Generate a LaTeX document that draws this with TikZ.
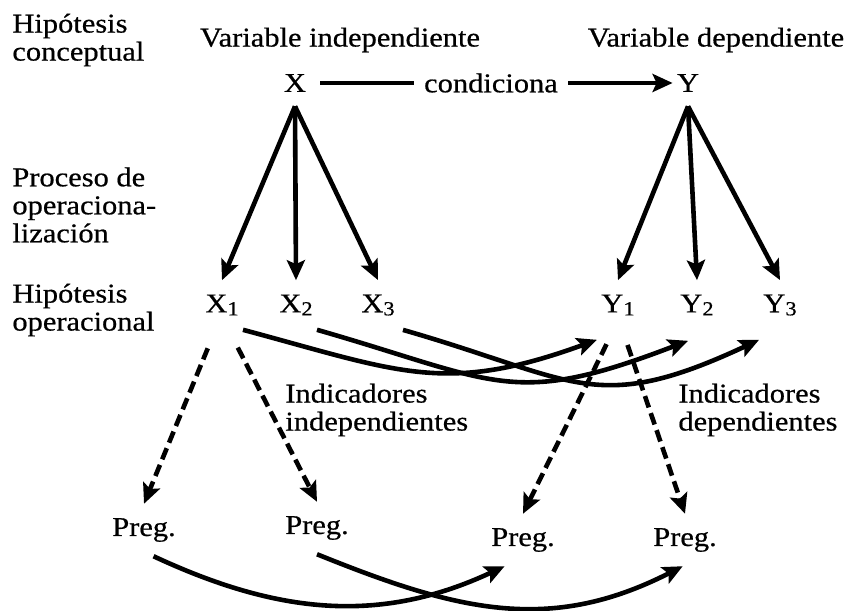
\documentclass[tikz,border=0pt]{standalone}
\usepackage{fontspec}
\setmainfont{Liberation Serif}[FakeStretch=1.12, FakeBold=0.6]
\usetikzlibrary{arrows.meta}
\newcommand{\ind}[1]{\raisebox{-1.5pt}{\fontsize{10}{10}\selectfont #1}}% subindice
\tikzset{
  txt/.style = {align=left, inner sep=0pt,
    font=\fontsize{13.6}{14}\selectfont},% textos de la izquierda
  var/.style = {inner xsep=2pt, inner ysep=7pt,
    font=\fontsize{13.6}{14}\selectfont},% variables
  flecha/.style = {line width=2.3pt, -{Stealth[length=10pt, width=9pt, inset=2pt]}},
  linea/.style = {line width=2.3pt},
  punteada/.style = {flecha, dash pattern=on 6pt off 3pt}% indicadores
}

\begin{document}
\begin{tikzpicture}[x=0.5pt, y=0.5pt]
	\useasboundingbox (0,0) rectangle (849,610);
	% textos de la izquierda
	\node [txt, anchor=west] (hc) at (12,570) {Hipótesis\\conceptual};
	\node [txt, anchor=west] (po) at (12,405) {Proceso de\\operaciona-\\lización};
	\node [txt, anchor=west] (ho) at (12,300) {Hipótesis\\operacional};
	% hipotesis conceptual
	\node [txt] (vi) at (340,570) {Variable independiente};
	\node [txt] (vd) at (716,570) {Variable dependiente};
	\node [var] (x) at (295,527) {X};
	\node [var, inner xsep=5pt] (cond) at (491,527) {condiciona};
	\node [var] (y) at (688,527) {Y};
	% hipotesis operacional
	\node [var] (x1) at (222,305) {X\ind{1}};
	\node [var] (x2) at (296,305) {X\ind{2}};
	\node [var] (x3) at (378,305) {X\ind{3}};
	\node [var] (y1) at (618,305) {Y\ind{1}};
	\node [var] (y2) at (697,305) {Y\ind{2}};
	\node [var] (y3) at (780,305) {Y\ind{3}};
	% indicadores
	\node [txt, anchor=west] (ii) at (285,200) {Indicadores\\independientes};
	\node [txt, anchor=west] (id) at (678,200) {Indicadores\\dependientes};
	\node [var] (p1) at (144,80) {Preg.};
	\node [var] (p2) at (317,82) {Preg.};
	\node [var] (p3) at (523,70) {Preg.};
	\node [var] (p4) at (685,70) {Preg.};

	\draw [linea, shorten <=5pt] (x) -- (cond);
	\draw [flecha] (cond) -- (y);
	\foreach \i in {1,2,3} {
		\draw [flecha] (x.south) -- (x\i.north);
		\draw [flecha] (y.south) -- (y\i.north);
	}
	\draw [flecha] (x1.south east) to [out=-15, in=200, looseness=1.17] ([yshift=-5pt]y1.south west);
	\draw [flecha] (x2.south east) to [out=-16, in=201, looseness=1.3] ([xshift=6pt, yshift=-5.5pt]y2.south west);
	\draw [flecha] ([xshift=2pt]x3.south east) to [out=-16, in=205, looseness=1.3] ([yshift=-5pt]y3.south west);
	\draw [punteada, shorten <=10pt] (x1.-105) -- (p1.north);
	\draw [punteada, shorten <=10pt] (x1.-75) -- (p2.north);
	\draw [punteada, shorten <=8pt] (y1.-100) -- (p3.north);
	\draw [punteada, shorten <=8pt] (y1.-80) -- (p4.north);
	\draw [flecha] (p1.-70) to [out=-25, in=205, looseness=1] (p3.-125);
	\draw [flecha] (p2.south) to [out=-22, in=207, looseness=1.05] (p4.-95);
\end{tikzpicture}
\end{document}
